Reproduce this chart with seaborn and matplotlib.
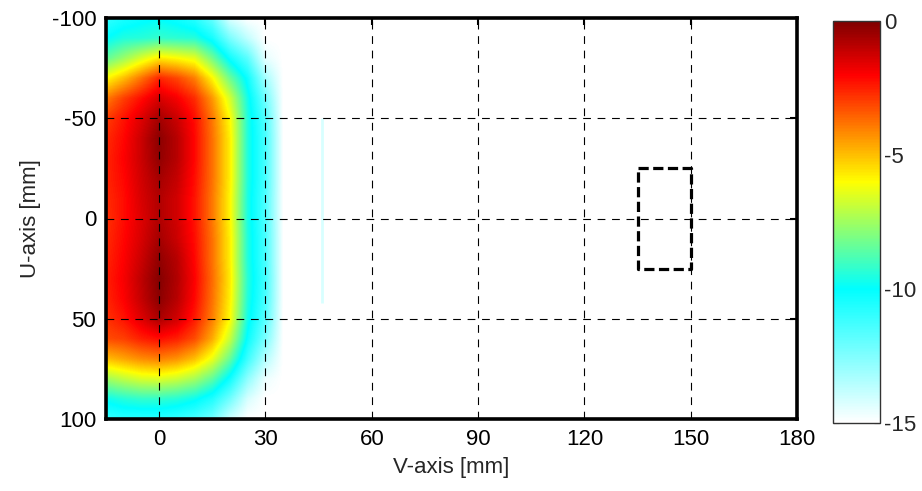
import numpy as np
import matplotlib
matplotlib.use("Agg")
import matplotlib.pyplot as plt
from matplotlib.colors import LinearSegmentedColormap, Normalize
from matplotlib import font_manager
import seaborn as sns

# ---------------- data ----------------
u_nodes = [-100, -90, -80, -70, -60, -50, -40, -30, -20, -10, 0,
           10, 20, 30, 40, 50, 60, 70, 80, 90, 100]
v_nodes_measured = [-15, -10, -5, 0, 5, 10, 15, 20, 25, 30, 35]

# level [dB] per V column (top->bottom along U)
col_vm15 = [-11.0, -10.0, -8.5, -6.0, -4.0, -3.0, -2.7, -2.6, -2.6, -2.7, -2.8,
            -2.7, -2.6, -2.5, -2.6, -2.8, -3.2, -5.0, -7.5, -9.8, -11.0]
col_vm10 = [-10.5, -9.5, -7.6, -5.0, -3.0, -2.3, -2.1, -2.0, -2.1, -2.2, -2.2,
            -2.1, -2.0, -1.9, -2.0, -2.3, -3.0, -4.6, -7.0, -9.4, -10.8]
col_vm5 = [-10.2, -9.4, -6.6, -3.8, -2.2, -1.5, -1.2, -1.2, -1.3, -1.4, -1.5,
           -1.4, -1.2, -1.0, -1.1, -1.5, -2.5, -4.2, -6.6, -9.2, -10.8]
col_v0 = [-10.0, -9.2, -5.7, -2.6, -1.4, -0.6, -0.2, -0.3, -0.6, -0.8, -0.8,
          -0.6, -0.3, -0.1, -0.2, -0.7, -2.2, -4.0, -6.5, -9.2, -10.8]
col_v5 = [-10.3, -9.3, -6.0, -3.1, -1.9, -1.2, -0.9, -0.9, -1.1, -1.3, -1.3,
          -1.2, -0.9, -0.8, -0.9, -1.3, -2.5, -4.3, -6.8, -9.4, -11.0]
col_v10 = [-10.8, -9.4, -6.4, -4.0, -2.7, -2.2, -2.1, -2.1, -2.2, -2.3, -2.3,
           -2.2, -2.1, -2.0, -2.1, -2.4, -3.2, -5.0, -7.4, -9.8, -11.4]
col_v15 = [-12.0, -10.4, -8.2, -5.9, -4.4, -3.9, -3.8, -3.8, -3.8, -3.9, -3.9,
           -3.8, -3.8, -3.7, -3.8, -4.0, -4.7, -6.3, -8.5, -10.6, -12.2]
col_v20 = [-14.3, -12.4, -10.3, -8.3, -6.7, -6.0, -5.8, -5.8, -5.8, -5.9, -5.9,
           -5.8, -5.8, -5.7, -5.8, -6.0, -6.9, -8.4, -10.3, -12.2, -14.0]
col_v25 = [-15.0, -13.8, -11.8, -10.3, -9.7, -9.5, -9.5, -9.5, -9.5, -9.6, -9.6,
           -9.5, -9.5, -9.4, -9.5, -9.7, -10.2, -11.2, -12.8, -14.2, -15.0]
col_v30 = [-15.0, -15.0, -14.5, -13.2, -12.2, -11.6, -11.4, -11.4, -11.4, -11.5, -11.5,
           -11.4, -11.4, -11.3, -11.4, -11.7, -12.4, -13.5, -14.6, -15.0, -15.0]
col_v35 = [-15.0] * 21

background_level = -15.0
v_step = 5
v_min, v_max = -15, 180

# faint streak near V = 46 mm
ghost_v = 46
ghost_u = [-50, 42]
ghost_level = -14.2

# dashed rectangle (region of interest)
box_v = [135, 150]
box_u = [-25, 25]

x_ticks = [0, 30, 60, 90, 120, 150, 180]
y_ticks = [-100, -50, 0, 50, 100]
cbar_ticks = [0, -5, -10, -15]
x_label = "V-axis [mm]"
y_label = "U-axis [mm]"

# ---------------- style ----------------
sns.set_style("white")
installed = {f.name for f in font_manager.fontManager.ttflist}
fam = [f for f in ["Liberation Sans Narrow", "Liberation Sans", "DejaVu Sans"] if f in installed]
plt.rcParams["font.family"] = fam
plt.rcParams["axes.unicode_minus"] = False
FS = 16

# colormap: white -> cyan (-15..-10), jet upper part cyan -> dark red (-10..0)
cmap = LinearSegmentedColormap.from_list(
    "wjet",
    [(0.0, (1, 1, 1)),
     (1 / 3, (0, 1, 1)),
     (1 / 3 + (2 / 3) * 0.4, (1, 1, 0)),
     (1 / 3 + (2 / 3) * 0.6, (1, 0.5, 0)),
     (1 / 3 + (2 / 3) * 0.8, (1, 0, 0)),
     (1.0, (0.5, 0, 0))], N=256)
norm = Normalize(vmin=-15, vmax=0)

# ---------------- field table ----------------
measured = np.array([col_vm15, col_vm10, col_vm5, col_v0, col_v5, col_v10,
                     col_v15, col_v20, col_v25, col_v30, col_v35]).T
n_v = (v_max - v_min) // v_step + 1
field = np.full((len(u_nodes), n_v), background_level)
field[:, :measured.shape[1]] = measured

fig = plt.figure(figsize=(9.22, 4.91), dpi=100)
ax = fig.add_axes([106 / 922, (491 - 419) / 491, (797 - 106) / 922, (419 - 18) / 491])
cax = fig.add_axes([833 / 922, (491 - 423) / 491, 47 / 922, (423 - 21) / 491])

extent = [v_min - v_step / 2, v_max + v_step / 2,
          u_nodes[-1] + 5, u_nodes[0] - 5]
im = ax.imshow(field, cmap=cmap, norm=norm, extent=extent, aspect="auto",
               interpolation="bilinear", interpolation_stage="data",
               origin="upper", zorder=0)

ax.vlines(ghost_v, ghost_u[0], ghost_u[1], color=cmap(norm(ghost_level)), lw=2.0, zorder=1)

rect_v = [box_v[0], box_v[1], box_v[1], box_v[0], box_v[0]]
rect_u = [box_u[0], box_u[0], box_u[1], box_u[1], box_u[0]]
ax.plot(rect_v, rect_u, color="black", lw=2.3, ls=(0, (3.2, 1.4)), zorder=4)

ax.set_xlim(v_min, v_max)
ax.set_ylim(100, -100)
ax.set_xticks(x_ticks)
ax.set_yticks(y_ticks)
ax.grid(True, color="black", lw=0.8, ls=(0, (7, 6)))
ax.set_axisbelow(False)
ax.tick_params(direction="in", length=5, width=1.5, top=True, right=True,
               labelsize=FS, pad=7, colors="black")
for s in ax.spines.values():
    s.set_linewidth(2.6)
    s.set_color("black")
ax.set_xlabel(x_label, fontsize=FS, labelpad=5)
ax.set_ylabel(y_label, fontsize=FS, labelpad=8)

cb = fig.colorbar(im, cax=cax)
cb.set_ticks(cbar_ticks)
cb.ax.tick_params(direction="in", length=4, width=0.8, left=True, right=True,
                  labelsize=FS, pad=3)
cb.outline.set_linewidth(1.0)
cb.outline.set_edgecolor("#333333")

fig.savefig("out.png", dpi=100)
